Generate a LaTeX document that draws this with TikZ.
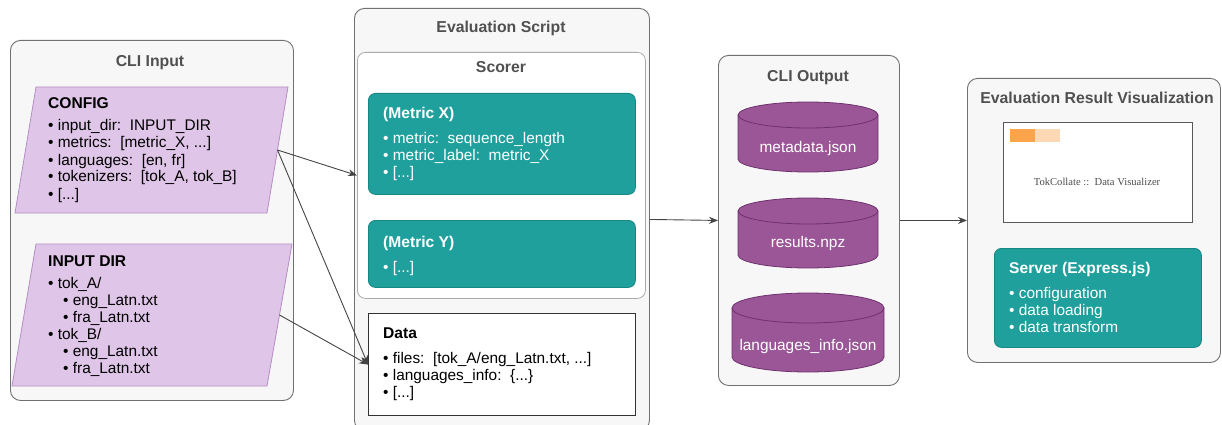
\documentclass[tikz,border=0pt]{standalone}
\usepackage{fontspec}
\setmainfont{Liberation Sans}
\newfontfamily\servis{Liberation Serif}
\usetikzlibrary{arrows.meta}
\definecolor{cfill}{HTML}{F7F7F7}
\definecolor{cline}{HTML}{707070}
\definecolor{tgray}{HTML}{505050}
\definecolor{lav}{HTML}{DFC5E7}
\definecolor{lavline}{HTML}{B38DC3}
\definecolor{tealc}{HTML}{1FA09D}
\definecolor{tealline}{HTML}{178783}
\definecolor{plum}{HTML}{9A5697}
\definecolor{plumline}{HTML}{6F316D}
\definecolor{arrc}{HTML}{444444}
\definecolor{orA}{HTML}{FBA44C}
\definecolor{orB}{HTML}{FDD8B4}
\definecolor{scline}{HTML}{AAAAAA}
\newcommand{\blk}[1]{\vtop{\baselineskip=17pt\lineskiplimit=-20pt\lineskip=0pt #1}}
\newcommand{\cylpath}[6]{% x1 x2 ytop ybot rx ry
  \path[fill=plum,draw=plumline,line width=0.8pt] (#1,#3) -- (#1,#4) arc[start angle=180,end angle=0,x radius=#5,y radius=#6] -- (#2,#3) arc[start angle=0,end angle=-180,x radius=#5,y radius=#6] -- cycle;
  \draw[plumline,line width=0.8pt] (#1,#3) arc[start angle=180,end angle=0,x radius=#5,y radius=#6];}
\tikzset{
 cont/.style={draw=cline, fill=cfill, line width=0.9pt, rounded corners=10pt, inner sep=0, anchor=north west},
 ttl/.style={font=\fontsize{15.8}{18}\selectfont\bfseries, text=tgray, inner sep=0, anchor=base},
 hd/.style={font=\fontsize{15.6}{18}\selectfont\bfseries, inner sep=0, anchor=base west},
 txt/.style={font=\fontsize{15.4}{17}\selectfont, inner sep=0, anchor=base west},
 ctxt/.style={font=\fontsize{15.4}{17}\selectfont, inner sep=0, anchor=base, text=white},
 tbox/.style={draw=tealline, fill=tealc, rounded corners=7pt, line width=0.8pt, inner sep=0, anchor=north west},
 purp/.style={draw=lavline, fill=lav, line width=0.8pt},
 arr/.style={draw=arrc, line width=0.9pt, -{Stealth[length=9pt,width=7pt,inset=3pt]}},
}
\begin{document}
\begin{tikzpicture}[x=1pt,y=-1pt]
\useasboundingbox (0,0) rectangle (1222,425);
\begin{scope}
\clip (0,0) rectangle (1222,425);
% ---------- CLI Input ----------
\node[cont, minimum width=283pt, minimum height=360pt] (cli) at (10,40) {};
\node[ttl] (clit) at (150,67) {CLI Input};
\path[purp] (36,87) -- (288,87) -- (267,213) -- (15,213) -- cycle;
\coordinate (cfgE) at (277.5,150);
\node[hd] (cfgh) at (48,109) {CONFIG};
\node[txt] (cfgl) at (48,131) {\blk{\hbox{• input\_dir:\ \ INPUT\_DIR}\hbox{• metrics:\ \ [metric\_X, ...]}\hbox{• languages:\ \ [en, fr]}\hbox{• tokenizers:\ \ [tok\_A, tok\_B]}\hbox{• [...]}}};
\path[purp] (36,244) -- (292,244) -- (267,386) -- (12,386) -- cycle;
\coordinate (dirE) at (279.5,315);
\node[hd] (dirh) at (48,266) {INPUT DIR};
\node[txt] (dirl) at (48,288) {\blk{\hbox{• tok\_A/}\hbox{\hskip15pt• eng\_Latn.txt}\hbox{\hskip15pt• fra\_Latn.txt}\hbox{• tok\_B/}\hbox{\hskip15pt• eng\_Latn.txt}\hbox{\hskip15pt• fra\_Latn.txt}}};
% ---------- Evaluation Script ----------
\node[cont, minimum width=295pt, minimum height=422pt] (evs) at (354,8) {};
\node[ttl] (evst) at (501,33) {Evaluation Script};
\node[cont, draw=scline, fill=white, rounded corners=8pt, line width=0.8pt, minimum width=288pt, minimum height=246pt] (scorer) at (357,52) {};
\node[ttl] (scot) at (501,73) {Scorer};
\node[tbox, minimum width=267pt, minimum height=101pt] (mx) at (368,93) {};
\node[hd, text=white] (mxh) at (383,118) {(Metric X)};
\node[txt, text=white] (mxl) at (383,143) {\blk{\hbox{• metric:\ \ sequence\_length}\hbox{• metric\_label:\ \ metric\_X}\hbox{• [...]}}};
\node[tbox, minimum width=267pt, minimum height=67pt] (my) at (368,220) {};
\node[hd, text=white] (myh) at (383,247) {(Metric Y)};
\node[txt, text=white] (myl) at (383,272) {• [...]};
\node[draw=black!80, fill=white, line width=1.1pt, inner sep=0, anchor=north west, minimum width=267pt, minimum height=102pt] (data) at (368,313) {};
\node[hd] (datah) at (383,338) {Data};
\node[txt] (datal) at (383,363) {\blk{\hbox{• files:\ \ [tok\_A/eng\_Latn.txt, ...]}\hbox{• languages\_info:\ \ \{...\}}\hbox{• [...]}}};
% ---------- CLI Output ----------
\node[cont, minimum width=181pt, minimum height=330pt] (cout) at (718,55) {};
\node[ttl] (coutt) at (808,82) {CLI Output};
\cylpath{738}{878}{115}{159}{70}{13}
\node[ctxt] (c1) at (808,152) {metadata.json};
\cylpath{738}{878}{211}{255}{70}{13}
\node[ctxt] (c2) at (808,247) {results.npz};
\cylpath{732}{884}{308}{357}{76}{15}
\node[ctxt] (c3) at (808,350) {languages\_info.json};
% ---------- Visualization ----------
\node[cont, minimum width=253pt, minimum height=284pt] (vis) at (967,78) {};
\node[ttl] (vist) at (1097,104) {Evaluation Result Visualization};
\node[draw=black!65, fill=white, line width=1.1pt, inner sep=0, anchor=north west, minimum width=189pt, minimum height=100pt] (shot) at (1003,122) {};
\fill[orA] (1010,129) rectangle (1035,142);
\fill[orB] (1035,129) rectangle (1060,142);
\node[inner sep=0, anchor=base, text=black!70, font=\servis\fontsize{10.6}{12}\selectfont] (shott) at (1097,185) {TokCollate ::\ \ Data Visualizer};
\node[tbox, minimum width=207pt, minimum height=99pt] (srv) at (994,248) {};
\node[hd, text=white] (srvh) at (1009,273) {Server (Express.js)};
\node[txt, text=white] (srvl) at (1009,298) {\blk{\hbox{• configuration}\hbox{• data loading}\hbox{• data transform}}};
% ---------- Connectors ----------
\draw[arr] (cfgE) -- (scorer.west);
\draw[arr] (cfgE) -- (data.west);
\draw[arr] (dirE) -- (data.west);
\draw[arr] (evs.east) -- (cout.west);
\draw[arr] (cout.east) -- (vis.west);
\end{scope}
\end{tikzpicture}
\end{document}
